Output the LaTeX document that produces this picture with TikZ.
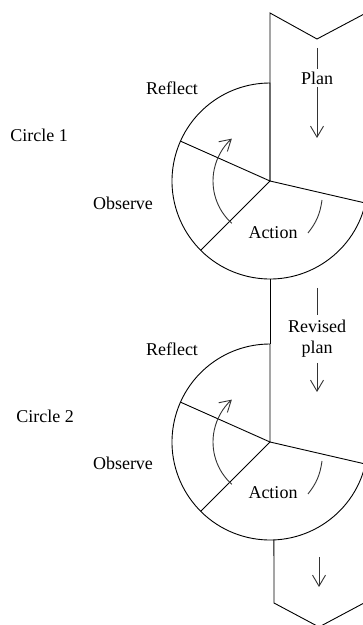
\documentclass[tikz,border=0pt]{standalone}
\usepackage{fontspec}
\setmainfont{Liberation Serif}
\usetikzlibrary{arrows.meta,calc}
\tikzset{
  >={Straight Barb[length=11pt,width=13pt]},
  rim/.style={line width=0.9pt,draw=black},
  turn/.style={line width=0.9pt,draw=black!80},
  lbl/.style={font=\fontsize{18}{21}\selectfont,inner sep=2pt,align=center},
}
\begin{document}
\begin{tikzpicture}[x=1pt,y=1pt]
  \useasboundingbox (0,0) rectangle (363,625);
  \clip (0,0) rectangle (363,625);
  % the two cycles
  \foreach \i/\cy in {1/444,2/183}{
    \coordinate (O\i) at (270,\cy);
    \draw[rim] (O\i) -- ++(-13:98) arc[start angle=-13,end angle=-270,radius=98] coordinate (top\i) -- (O\i);
    \draw[rim] (O\i) -- ++(156:98);
    \draw[rim] (O\i) -- ++(225:98);
    \draw[turn,->] (O\i) ++(228:57) arc[start angle=228,end angle=132,radius=57];
    \draw[turn] ($(O\i)+(52,-19)$) to[bend left=15] ($(O\i)+(38,-52)$);
  }
  % band
  \coordinate (t1) at (270,612); \coordinate (tv) at (317,586); \coordinate (t2) at (366,612);
  \coordinate (b1) at (274,22); \coordinate (bv) at (319,-2); \coordinate (b2) at (364,22);
  \draw[rim] (t2) -- (tv) -- (t1) -- (O1);
  \draw[rim] (O1) ++(0,-98) -- (top2);
  \draw[rim] (O2) ++(-87.7:98) -- (b1) -- (bv) -- (b2);
  % plan arrows
  \node[lbl] (plan) at (317,547) {Plan};
  \coordinate (plan in) at (317,577); \coordinate (plan out) at (317,487);
  \draw[turn] (plan in) -- (plan);
  \draw[turn,->] (plan) -- (plan out);
  \node[lbl,inner ysep=5pt] (rplan) at (317,286) {Revised\\plan};
  \coordinate (rplan in) at (317,337); \coordinate (rplan out) at (317,233);
  \draw[turn] (rplan in) -- (rplan);
  \draw[turn,->] (rplan) -- (rplan out);
  \coordinate (next in) at (319,68); \coordinate (next out) at (319,38);
  \draw[turn,->] (next in) -- (next out);
  % labels
  \node[lbl] (circ1) at (39,490) {Circle 1};
  \node[lbl] (refl1) at (172,537) {Reflect};
  \node[lbl] (obs1) at (123,422) {Observe};
  \node[lbl] (act1) at (273,392) {Action};
  \node[lbl] (circ2) at (45,209) {Circle 2};
  \node[lbl] (refl2) at (172,276) {Reflect};
  \node[lbl] (obs2) at (123,162) {Observe};
  \node[lbl] (act2) at (273,132) {Action};
\end{tikzpicture}
\end{document}
